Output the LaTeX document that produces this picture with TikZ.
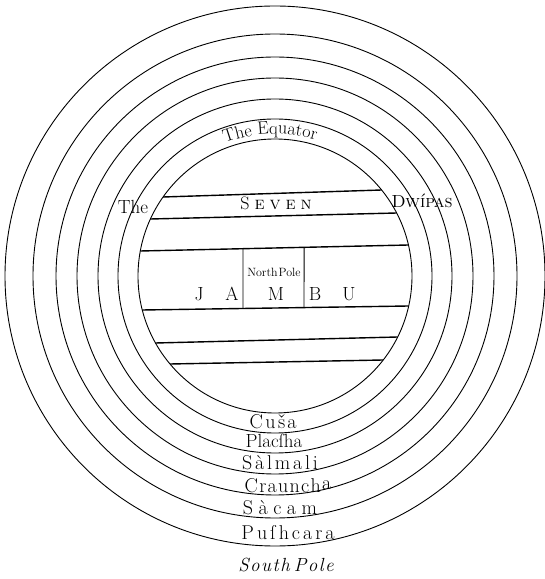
\documentclass[tikz,border=0pt]{standalone}
\usepackage{fontspec}
\usetikzlibrary{decorations.text,calc}
\begin{document}
\begin{tikzpicture}[x=1pt,y=1pt,
  ring/.style={line width=0.9pt},
  band/.style={line width=1.4pt},
  post/.style={line width=0.9pt},
  lbl/.style={anchor=base,inner sep=0pt,outer sep=0pt},
  big/.style={font=\fontsize{20}{20}\selectfont},
  mid/.style={font=\fontsize{19}{19}\selectfont},
]
\useasboundingbox (0,0) rectangle (545,579);
\fill[white] (0,0) rectangle (545,579);
\coordinate (c) at (275,303);
% the seven circles
\foreach \r in {137,157,177,198,219,242,270}
  \draw[ring] (c) circle[radius=\r];
% bands inside Jambu
\coordinate (l1a) at (163.1,382); \coordinate (l1b) at (381.6,389);
\coordinate (l2a) at (150.4,360); \coordinate (l2b) at (396.7,366);
\coordinate (l3a) at (140.3,328); \coordinate (l3b) at (408.4,334);
\coordinate (l4a) at (142.3,269); \coordinate (l4b) at (408.7,273);
\coordinate (l5a) at (155.5,236); \coordinate (l5b) at (397.7,242);
\coordinate (l6a) at (170.0,215); \coordinate (l6b) at (383.2,219);
\foreach \i in {1,...,6} \draw[band] (l\i a) -- (l\i b);
\draw[post] ($(l3a)!0.383!(l3b)$) -- ($(l4a)!0.378!(l4b)$);
\draw[post] ($(l3a)!0.611!(l3b)$) -- ($(l4a)!0.607!(l4b)$);
% The Equator
\path[decorate,decoration={text along path,text align=center,
  text={|\fontsize{18}{18}\selectfont|The Equator}}]
  ($(c)+(133:142)$) arc[start angle=133,end angle=51,radius=142];
% top title
\node[lbl,mid] (the) at (133,365) {The};
\node[lbl,font=\fontsize{18}{18}\selectfont] (seven) at (276,369)
  {S\kern5pt\textsc{e\kern5pt v\kern5pt e\kern5pt n}};
\node[lbl,font=\fontsize{17.5}{17.5}\selectfont] (dwipas) at (422,371) {\textsc{Dwípas}};
% Jambu
\node[lbl,font=\fontsize{12}{12}\selectfont] (np) at (274,302) {North\kern1pt Pole};
\node[lbl,mid] (j) at (199,278) {J};
\node[lbl,mid] (a) at (232,278) {A};
\node[lbl,mid] (m) at (276,278) {M};
\node[lbl,mid] (b) at (315,278) {B};
\node[lbl,mid] (u) at (349,278) {U};
% ring names
\node[lbl,big] (cusa) at (273,150) {C\kern2.5pt u\kern2.5pt š\kern2pt a};
\node[lbl,mid] (placsha) at (274,131) {Placſha};
\node[lbl,big] (salmali) at (280,109) {S\kern2.8pt à\kern2.8pt l\kern2.8pt m\kern2.8pt a\kern2.8pt l\kern2.8pt i};
\node[lbl,big] (crauncha) at (288,86) {C\kern1.3pt r\kern1.3pt a\kern1.3pt u\kern1.3pt n\kern1.3pt c\kern1.3pt h\kern1.3pt\raisebox{3pt}{a}};
\node[lbl,big] (sacam) at (280,64) {S\kern5.5pt à\kern5.5pt c\kern5.5pt a\kern5.5pt m};
\node[lbl,big] (pushcara) at (288,39) {P\kern3pt u\kern3pt ſ\kern3pt h\kern3pt c\kern3pt a\kern3pt r\kern3pt a};
\node[lbl,font=\fontsize{19}{19}\selectfont\itshape] (south) at (286,7) {S\kern1.5pt o\kern1.5pt u\kern1.5pt t\kern1.5pt h\kern4pt P\kern1.5pt o\kern1.5pt l\kern1.5pt e};
\end{tikzpicture}
\end{document}
